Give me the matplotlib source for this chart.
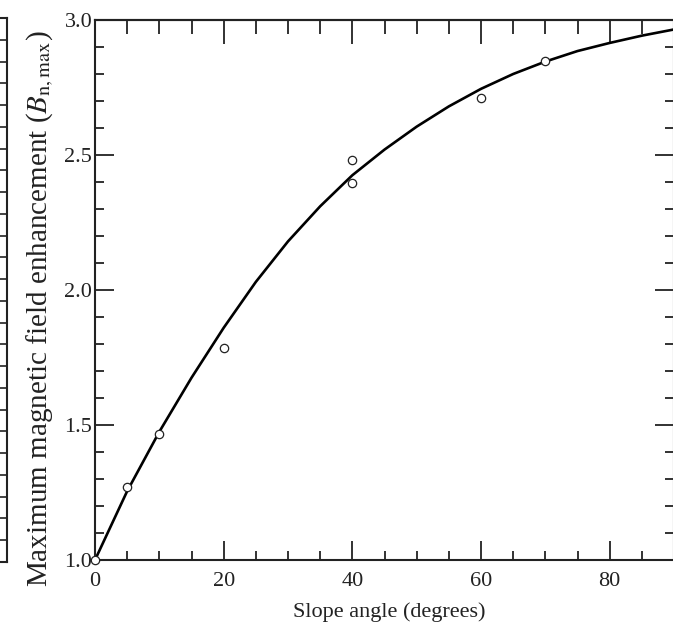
import matplotlib
matplotlib.use("Agg")
from matplotlib import pyplot as plt
from matplotlib.ticker import MultipleLocator

plt.rcParams['font.family'] = ['Liberation Serif', 'DejaVu Serif']
plt.rcParams['mathtext.fontset'] = 'stix'

# measured enhancement at each slope angle
meas_angle = [0, 5, 10, 20, 40, 40, 60, 70]
meas_enh = [1.00, 1.27, 1.465, 1.785, 2.395, 2.48, 2.71, 2.848]

# model curve
curve_angle = [0, 5, 10, 15, 20, 25, 30, 35, 40, 45, 50, 55, 60, 65, 70, 75, 80, 85, 90]
curve_enh = [1.00, 1.255, 1.475, 1.675, 1.86, 2.03, 2.18, 2.31, 2.425, 2.52,
             2.605, 2.68, 2.745, 2.80, 2.846, 2.885, 2.915, 2.942, 2.965]

W, H = 673, 636
fig = plt.figure(figsize=(W / 100, H / 100), dpi=100)

ink = '#222222'

# edge of the neighbouring panel
axl = fig.add_axes([-220 / W, (H - 562) / H, 227 / W, 544 / H])
axl.set_xticks([])
axl.set_ylim(0, 1)
axl.yaxis.set_major_locator(MultipleLocator(0.04))
axl.tick_params(axis='y', left=False, right=True, labelleft=False,
                direction='in', length=5, width=1.2, color=ink)
for s in axl.spines.values():
    s.set_color(ink)
    s.set_linewidth(1.5)

ax = fig.add_axes([95 / W, (H - 560) / H, 579 / W, 540 / H])
ax.plot(curve_angle, curve_enh, color='black', linewidth=1.9)
ax.plot(meas_angle, meas_enh, linestyle='none', marker='o', markersize=6,
        markerfacecolor='white', markeredgecolor=ink, markeredgewidth=0.9,
        clip_on=False, zorder=3)

ax.set_xlim(0, 90)
ax.set_ylim(1.0, 3.0)
ax.xaxis.set_major_locator(MultipleLocator(20))
ax.xaxis.set_minor_locator(MultipleLocator(5))
ax.yaxis.set_major_locator(MultipleLocator(0.5))
ax.yaxis.set_minor_locator(MultipleLocator(0.1))
ax.yaxis.set_major_formatter(lambda v, p: f"{v:.1f}")

ax.tick_params(which='both', direction='in', width=1.3, color=ink,
               labelsize=16, labelcolor=ink)
ax.tick_params(which='major', length=14)
ax.tick_params(which='minor', length=6.5)
ax.tick_params(axis='x', pad=9)
ax.tick_params(axis='y', pad=2)

# top and right ticks
top = ax.secondary_xaxis('top')
top.xaxis.set_major_locator(MultipleLocator(20))
top.xaxis.set_minor_locator(MultipleLocator(5))
top.tick_params(which='both', direction='in', width=1.3, color=ink, labeltop=False)
top.tick_params(which='major', length=17)
top.tick_params(which='minor', length=10)
right = ax.secondary_yaxis('right')
right.yaxis.set_major_locator(MultipleLocator(0.5))
right.yaxis.set_minor_locator(MultipleLocator(0.1))
right.tick_params(which='both', direction='in', width=1.3, color=ink, labelright=False)
right.tick_params(which='major', length=14)
right.tick_params(which='minor', length=6.5)

for a in (ax, top, right):
    for s in a.spines.values():
        s.set_color(ink)
        s.set_linewidth(1.5)

fig.text(389 / W, 1 - 612 / H, "Slope angle (degrees)",
         ha='center', va='center', fontsize=16, color=ink)
fig.text(40 / W, 1 - 309 / H,
         r"Maximum magnetic field enhancement ($B_{\mathrm{n,max}}$)",
         rotation=90, ha='center', va='center', fontsize=21, color=ink)

fig.savefig("out.png", dpi=100)
